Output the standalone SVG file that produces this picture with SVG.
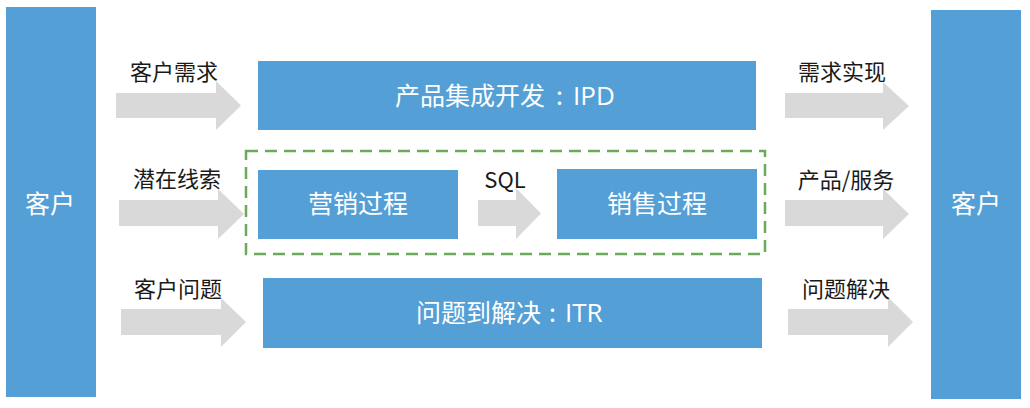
<svg xmlns="http://www.w3.org/2000/svg" width="1030" height="408" viewBox="0 0 1030 408">
<style>
.box{fill:#559FD7}
.arr{fill:#D9D9D9}
.lbl{font-family:"Noto Sans CJK SC","Microsoft YaHei",sans-serif;font-size:22px;fill:#1a1a1a;text-anchor:middle}
.wt{font-family:"Noto Sans CJK SC","Microsoft YaHei",sans-serif;font-size:25px;fill:#ffffff;text-anchor:middle}
.ws{font-family:"Noto Sans CJK SC","Microsoft YaHei",sans-serif;font-size:25px;fill:#ffffff}
.lat{font-family:"Open Sans","Noto Sans",sans-serif;font-size:26px}
.dash{fill:none;stroke:#6AAA5B;stroke-width:2.5;stroke-dasharray:12 7}
</style>
<rect width="1030" height="408" fill="#ffffff"/>
<g id="customer-left"><rect class="box" x="6" y="7" width="90" height="390"/><text class="wt" x="50" y="213">客户</text></g>
<g id="customer-right"><rect class="box" x="931" y="10" width="90" height="389"/><text class="wt" x="976" y="213">客户</text></g>
<g id="ipd"><rect class="box" x="258" y="61" width="498" height="69"/><text class="ws" y="105"><tspan x="395">产品集成开发</tspan><tspan x="556">:</tspan><tspan x="573" class="lat">IPD</tspan></text></g>
<g id="group-box"><rect class="dash" x="246" y="151" width="519" height="103"/></g>
<g id="marketing"><rect class="box" x="258" y="170" width="200" height="69"/><text class="wt" x="358" y="213">营销过程</text></g>
<g id="sales"><rect class="box" x="557" y="169" width="200" height="70"/><text class="wt" x="657" y="213">销售过程</text></g>
<g id="itr"><rect class="box" x="263" y="278" width="499" height="70"/><text class="ws" y="322"><tspan x="416">问题到解决</tspan><tspan x="549">:</tspan><tspan x="565" class="lat">ITR</tspan></text></g>
<g id="connectors">
<polygon class="arr" points="116,93 216,93 216,81 241,105.5 216,130 216,118 116,118"/>
<polygon class="arr" points="119,200 218,200 218,189 244,214 218,239 218,226 119,226"/>
<polygon class="arr" points="121,309 221,309 221,298 246,322 221,347 221,335 121,335"/>
<polygon class="arr" points="478,200 516,200 516,188 541,213.5 516,239 516,226 478,226"/>
<polygon class="arr" points="785,93 883,93 883,82 909,106 883,130 883,118 785,118"/>
<polygon class="arr" points="785,200 883,200 883,189 909,214 883,239 883,226 785,226"/>
<polygon class="arr" points="788,309 888,309 888,297 913,322 888,347 888,335 788,335"/>
<text class="lbl" x="174" y="80">客户需求</text>
<text class="lbl" x="177" y="187">潜在线索</text>
<text class="lbl" x="178" y="297">客户问题</text>
<text class="lbl" x="505" y="188">SQL</text>
<text class="lbl" x="842" y="80">需求实现</text>
<text class="lbl" x="846" y="188">产品/服务</text>
<text class="lbl" x="846" y="297">问题解决</text>
</g>
</svg>
